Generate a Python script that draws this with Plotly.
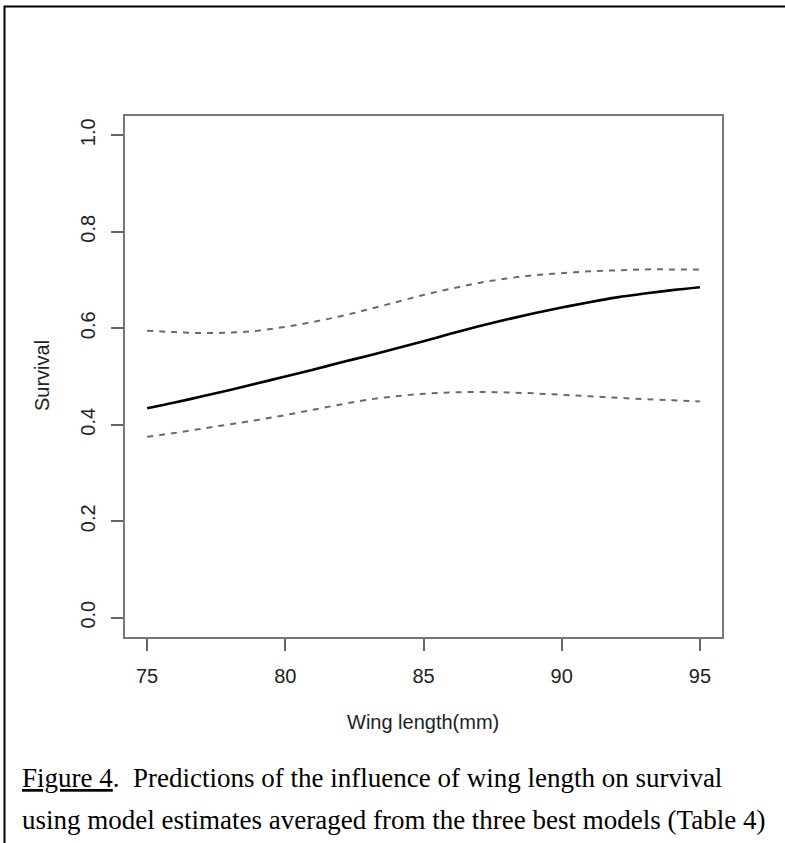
import plotly.graph_objects as go

wing = [75, 76, 77, 78, 79, 80, 81, 82, 83, 84, 85, 86, 87, 88, 89, 90, 91, 92, 93, 94, 95]
survival = [0.434, 0.446, 0.459, 0.472, 0.486, 0.500, 0.514, 0.529, 0.543, 0.558, 0.573,
            0.589, 0.604, 0.618, 0.631, 0.643, 0.654, 0.664, 0.672, 0.679, 0.685]
upper = [0.595, 0.592, 0.590, 0.591, 0.595, 0.603, 0.613, 0.625, 0.639, 0.654, 0.669,
         0.682, 0.694, 0.703, 0.710, 0.714, 0.718, 0.720, 0.722, 0.722, 0.722]
lower = [0.375, 0.383, 0.392, 0.401, 0.410, 0.420, 0.431, 0.442, 0.452, 0.459, 0.464,
         0.467, 0.468, 0.467, 0.465, 0.462, 0.459, 0.456, 0.453, 0.451, 0.448]

x_ticks = [75, 80, 85, 90, 95]
y_ticks = [0.0, 0.2, 0.4, 0.6, 0.8, 1.0]
y_tick_labels = ["0.0", "0.2", "0.4", "0.6", "0.8", "1.0"]

fig = go.Figure()
for band in (upper, lower):
    fig.add_trace(go.Scatter(x=wing, y=band, mode="lines",
                             line=dict(color="#6a6a6a", width=2, dash="6px,6px", shape="spline"),
                             showlegend=False, hoverinfo="skip"))
fig.add_trace(go.Scatter(x=wing, y=survival, mode="lines",
                         line=dict(color="black", width=2.6, shape="spline"),
                         showlegend=False))

sans = "Liberation Sans, Arial, sans-serif"
serif = "Liberation Serif, Times New Roman, serif"
axis_font = dict(family=sans, size=20, color="#222")
fig.update_xaxes(range=[74.2, 95.8], tickvals=x_ticks, ticks="outside", ticklen=12,
                 tickwidth=1.5, tickcolor="#666", showline=True, linecolor="#777",
                 linewidth=1.5, mirror=True, showgrid=False, zeroline=False,
                 tickfont=axis_font, ticklabelstandoff=8)
fig.update_yaxes(range=[-0.04, 1.04], tickvals=y_ticks, ticktext=y_tick_labels,
                 ticks="outside", ticklen=12, tickwidth=1.5, tickcolor="#666",
                 showline=True, linecolor="#777", linewidth=1.5, mirror=True,
                 showgrid=False, zeroline=False, tickangle=-90, tickfont=axis_font,
                 ticklabelstandoff=8)

W, L, T, B = 597, 125, 116, 637
H = B - T

fig.update_layout(
    width=785, height=843,
    margin=dict(l=125, r=63, t=116, b=206, autoexpand=False),
    paper_bgcolor="white", plot_bgcolor="white",
    shapes=[dict(type="rect", xref="paper", yref="paper",
                 x0=(4.5 - L) / W, x1=(800 - L) / W,
                 y0=(B - 900) / H, y1=(B - 6.5) / H,
                 line=dict(color="black", width=2), fillcolor="rgba(0,0,0,0)", layer="below")],
    annotations=[
        dict(text="Wing length(mm)", xref="paper", yref="paper",
             x=(423 - L) / W, y=(B - 722) / H, showarrow=False,
             font=dict(family=sans, size=20, color="#222"),
             xanchor="center", yanchor="middle"),
        dict(text="Survival", xref="paper", yref="paper",
             x=(42 - L) / W, y=(B - 376) / H, showarrow=False, textangle=-90,
             font=dict(family=sans, size=20, color="#222"),
             xanchor="center", yanchor="middle"),
        dict(text="<u>Figure 4</u>.  Predictions of the influence of wing length on survival",
             xref="paper", yref="paper", x=(20 - L) / W, y=(B - 778) / H,
             showarrow=False, xanchor="left", yanchor="middle",
             font=dict(family=serif, size=27, color="black")),
        dict(text="using model estimates averaged from the three best models (Table 4)",
             xref="paper", yref="paper", x=(20 - L) / W, y=(B - 820) / H,
             showarrow=False, xanchor="left", yanchor="middle",
             font=dict(family=serif, size=27, color="black")),
    ],
)

fig.write_html("out.html")
